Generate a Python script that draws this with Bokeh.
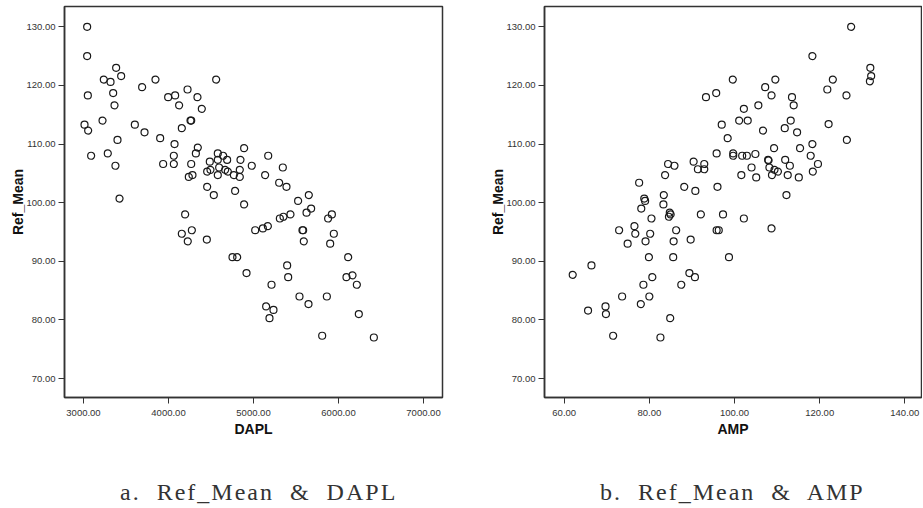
from bokeh.plotting import figure
from bokeh.models import Range1d, FixedTicker, PrintfTickFormatter, Div
from bokeh.layouts import row, column
from bokeh.embed import file_html
from bokeh.resources import INLINE

# ---- data ----
dapl = [3043, 3043, 3384, 3443, 3239, 3318, 3847, 4561, 3051, 3349, 3690, 4224, 3996, 4078, 4341,
        3365, 4125, 4392, 4259, 4267, 3224, 3012, 3055, 3604, 3718, 4157, 3902, 3400, 4071, 3090,
        3286, 3376, 3937, 4063, 4063, 4345, 4322, 4267, 4239, 4282, 3424, 4455, 4494, 4486, 4580,
        4643, 4580, 4690, 4596, 4667, 4698, 4580, 4890, 4847, 4839, 4839, 4769, 4980, 5173, 5137,
        5345, 5302, 5388, 4455, 4533, 4784, 4890, 5525, 5651, 5624, 5678, 5310, 5353, 5435, 5878,
        5922, 4196, 4157, 4275, 4227, 4451, 5020, 5110, 5169, 5576, 5584, 5592, 5945, 5902, 4753,
        4808, 6114, 4918, 5396, 5408, 5212, 5149, 5235, 5188, 5541, 5647, 5863, 5808, 6094, 6165,
        6216, 6239, 6416]
ref_mean_a = [130.0, 125.0, 123.0, 121.6, 121.0, 120.6, 121.0, 121.0, 118.3, 118.7, 119.7, 119.3, 118.0, 118.3, 118.0,
              116.6, 116.6, 116.0, 114.0, 114.0, 114.0, 113.3, 112.3, 113.3, 112.0, 112.7, 111.0, 110.7, 110.0, 108.0,
              108.4, 106.3, 106.6, 108.0, 106.6, 109.4, 108.4, 106.6, 104.4, 104.7, 100.7, 105.3, 105.6, 107.0, 108.4,
              108.0, 107.3, 107.3, 106.0, 105.6, 105.3, 104.7, 109.3, 107.3, 105.6, 104.4, 104.7, 106.3, 108.0, 104.7,
              106.0, 103.4, 102.7, 102.7, 101.3, 102.0, 99.7, 100.3, 101.3, 98.3, 99.0, 97.3, 97.6, 98.0, 97.3,
              98.0, 98.0, 94.7, 95.3, 93.4, 93.7, 95.3, 95.6, 96.0, 95.3, 95.3, 93.4, 94.7, 93.0, 90.7,
              90.7, 90.7, 88.0, 89.3, 87.3, 86.0, 82.3, 81.7, 80.3, 84.0, 82.7, 84.0, 77.3, 87.3, 87.6,
              86.0, 81.0, 77.0]

amp = [127.4, 118.3, 131.9, 132.1, 131.8, 123.1, 121.8, 126.3, 122.1, 126.4, 99.6, 109.6, 95.7, 93.3, 107.2,
       108.7, 113.5, 113.9, 105.6, 102.2, 101.1, 103.1, 113.2, 97.0, 106.7, 111.8, 114.7, 98.4, 118.3, 115.4,
       109.3, 117.9, 119.6, 118.4, 95.8, 99.7, 99.7, 101.8, 102.9, 104.9, 107.9, 108.0, 111.9, 113.0, 108.2,
       109.4, 110.2, 108.8, 112.5, 115.1, 104.0, 105.1, 101.6, 90.4, 92.9, 91.4, 92.9, 84.4, 85.9, 83.7,
       77.6, 88.2, 90.8, 96.0, 112.2, 83.4, 78.8, 79.0, 83.3, 78.1, 84.8, 85.0, 84.6, 92.1, 97.3,
       102.2, 80.5, 108.7, 95.8, 96.3, 86.3, 72.9, 76.5, 76.7, 80.2, 79.1, 85.7, 89.7, 74.9, 79.9,
       85.6, 98.7, 66.4, 62.0, 80.7, 78.6, 87.5, 89.4, 90.7, 73.6, 80.0, 78.0, 65.6, 69.7, 69.8,
       84.9, 71.5, 82.6]
ref_mean_b = [130.0, 125.0, 123.0, 121.6, 120.7, 121.0, 119.3, 118.3, 113.4, 110.7, 121.0, 121.0, 118.7, 118.0, 119.7,
              118.3, 118.0, 116.6, 116.6, 116.0, 114.0, 114.0, 114.0, 113.3, 112.3, 112.7, 112.0, 111.0, 110.0, 109.3,
              109.3, 108.0, 106.6, 105.3, 108.4, 108.4, 108.0, 108.0, 108.0, 108.3, 107.3, 107.2, 107.3, 106.3, 106.0,
              105.6, 105.3, 104.7, 104.7, 104.3, 106.0, 104.3, 104.7, 107.0, 106.6, 105.7, 105.7, 106.6, 106.3, 104.7,
              103.4, 102.7, 102.0, 102.7, 101.3, 101.3, 100.7, 100.3, 99.7, 99.0, 98.3, 98.0, 97.6, 98.0, 98.0,
              97.3, 97.3, 95.6, 95.3, 95.3, 95.3, 95.3, 96.0, 94.7, 94.7, 93.4, 93.4, 93.7, 93.0, 90.7,
              90.7, 90.7, 89.3, 87.7, 87.3, 86.0, 86.0, 88.0, 87.3, 84.0, 84.0, 82.7, 81.6, 82.3, 81.0,
              80.3, 77.3, 77.0]

y_ticks = [70, 80, 90, 100, 110, 120, 130]
dapl_ticks = [3000, 4000, 5000, 6000, 7000]
amp_ticks = [60, 80, 100, 120, 140]
captions = ["a. Ref_Mean &amp; DAPL", "b. Ref_Mean &amp; AMP"]
x_titles = ["DAPL", "AMP"]
y_title = "Ref_Mean"

FIG_H = 476


def make_plot(x, y, xr, xticks, xtitle, width, border_left, border_right):
    p = figure(width=width, height=FIG_H, output_backend="svg", toolbar_location=None,
               x_range=Range1d(*xr), y_range=Range1d(66.77, 133.46),
               min_border_left=border_left, min_border_right=border_right,
               min_border_top=6, min_border_bottom=FIG_H - 397)
    p.grid.visible = False
    p.outline_line_color = "#333333"
    p.outline_line_width = 1.5
    p.background_fill_color = "white"
    p.border_fill_color = "white"
    p.scatter(x, y, size=7, marker="circle", fill_color=None,
              line_color="#1a1a1a", line_width=1.2)
    for ax, ticks in ((p.xaxis[0], xticks), (p.yaxis[0], y_ticks)):
        ax.ticker = FixedTicker(ticks=ticks)
        ax.formatter = PrintfTickFormatter(format="%.2f")
        ax.minor_tick_line_color = None
        ax.major_tick_in = 0
        ax.major_tick_out = 6
        ax.major_tick_line_color = "#333333"
        ax.axis_line_color = "#333333"
        ax.axis_line_width = 1.5
        ax.major_label_text_font = "Liberation Sans"
        ax.major_label_text_font_size = "9.5px"
        ax.major_label_text_color = "#333333"
        ax.axis_label_text_font = "Liberation Sans"
        ax.axis_label_text_font_size = "14px"
        ax.axis_label_text_font_style = "bold"
        ax.axis_label_text_color = "#111111"
    p.xaxis.axis_label = xtitle
    p.xaxis.major_label_standoff = 6
    p.xaxis.axis_label_standoff = 2
    p.yaxis.axis_label = y_title
    p.yaxis.major_label_standoff = 3
    p.yaxis.axis_label_standoff = -3
    return p


p1 = make_plot(dapl, ref_mean_a, (2776.5, 7223.5), dapl_ticks, x_titles[0], 452, 64, 10)
p2 = make_plot(amp, ref_mean_b, (55.37, 143.92), amp_ticks, x_titles[1], 470, 92, 1)

inner = ("font-family:'Liberation Serif',serif;font-size:24px;letter-spacing:2px;word-spacing:8px;"
         "line-height:22px;color:#333333;white-space:nowrap;margin:0;padding-left:{}px;")
d1 = Div(text='<div style="{}">{}</div>'.format(inner.format(115), captions[0]),
         width=452, height=30)
d2 = Div(text='<div style="{}">{}</div>'.format(inner.format(133), captions[1]),
         width=470, height=30)

layout = column(row(p1, p2, spacing=0), row(d1, d2, spacing=0), spacing=0)
open("out.html", "w").write(file_html(layout, INLINE))
